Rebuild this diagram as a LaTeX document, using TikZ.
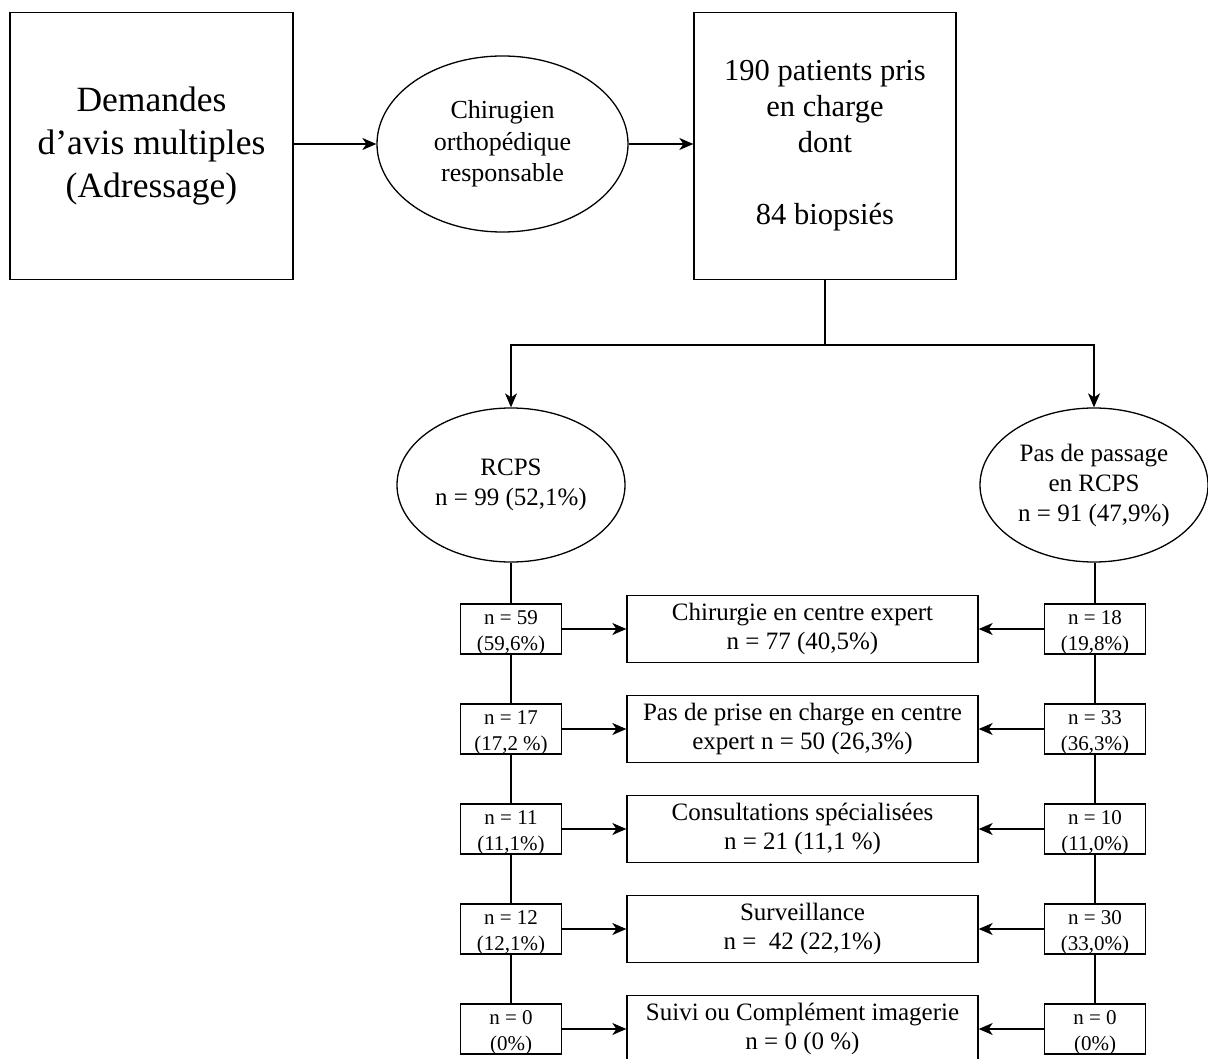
\documentclass[tikz,border=0pt]{standalone}
\usepackage{fontspec}
\setmainfont{Liberation Serif}
\usetikzlibrary{shapes.geometric,arrows.meta}
\begin{document}
\begin{tikzpicture}[x=1pt,y=-1pt,
  line width=1.3pt,
  arr/.style={-{Stealth[length=14pt,width=12pt,inset=4pt]}},
  bigbox/.style={draw,rectangle,inner sep=0pt,align=center},
  oval/.style={draw,ellipse,inner sep=0pt,align=center},
  smallbox/.style={draw,rectangle,inner sep=0pt,minimum width=101pt,minimum height=50pt},
  midbox/.style={draw,rectangle,inner sep=0pt,minimum width=351pt,minimum height=67pt,align=center,
    font=\fontsize{25}{29.5}\selectfont},
  sl/.style={align=center,inner sep=0pt,font=\fontsize{21}{26}\selectfont,yshift=-4pt}
]
\useasboundingbox (0,0) rectangle (1208,1059);

\node[bigbox,minimum width=283pt,minimum height=267pt,font=\fontsize{35.5}{43}\selectfont]
  (dem) at (151.5,146) {Demandes\\d'avis multiples\\(Adressage)};
\node[oval,minimum width=251pt,minimum height=176pt,font=\fontsize{26}{31.6}\selectfont]
  (chir) at (502.5,144) {Chirugien\\orthopédique\\responsable};
\node[bigbox,minimum width=262pt,minimum height=267pt,font=\fontsize{30.5}{36}\selectfont]
  (pat) at (825,146) {190 patients pris\\en charge\\dont\\\mbox{}\\84 biopsiés};

\draw[arr] (chir.west -| dem.east) -- (chir.west);
\draw[arr] (chir.east) -- (chir.east -| pat.west);

\coordinate (split) at (825,345);
\node[oval,minimum width=228pt,minimum height=154pt,font=\fontsize{25}{30}\selectfont]
  (rcps) at (511,485) {RCPS\\n = 99 (52,1\%)};
\node[oval,minimum width=228pt,minimum height=154pt,font=\fontsize{25}{30}\selectfont]
  (nrcps) at (1094,485) {Pas de passage\\en RCPS\\n = 91 (47,9\%)};

\draw[arr] (pat.south) -- (split) -| (rcps.north);
\draw[arr] (pat.south) -- (split) -| (nrcps.north);

% left small boxes
\node[smallbox,label={[sl]center:n = 59\\(59,6\%)}] (l1) at (511,629) {};
\node[smallbox,label={[sl]center:n = 17\\(17,2 \%)}] (l2) at (511,729) {};
\node[smallbox,label={[sl]center:n = 11\\(11,1\%)}] (l3) at (511,829) {};
\node[smallbox,label={[sl]center:n = 12\\(12,1\%)}] (l4) at (511,929) {};
\node[smallbox,label={[sl]center:n = 0\\(0\%)}] (l5) at (511,1029) {};

% right small boxes
\node[smallbox,label={[sl]center:n = 18\\(19,8\%)}] (r1) at (1095,629) {};
\node[smallbox,label={[sl]center:n = 33\\(36,3\%)}] (r2) at (1095,729) {};
\node[smallbox,label={[sl]center:n = 10\\(11,0\%)}] (r3) at (1095,829) {};
\node[smallbox,label={[sl]center:n = 30\\(33,0\%)}] (r4) at (1095,929) {};
\node[smallbox,label={[sl]center:n = 0\\(0\%)}] (r5) at (1095,1029) {};

% middle boxes
\node[midbox] (c1) at (802.5,629) {Chirurgie en centre expert\\n = 77 (40,5\%)};
\node[midbox] (c2) at (802.5,729) {Pas de prise en charge en centre\\expert n = 50 (26,3\%)};
\node[midbox] (c3) at (802.5,829) {Consultations spécialisées\\n = 21 (11,1 \%)};
\node[midbox] (c4) at (802.5,929) {Surveillance\\n = \ 42 (22,1\%)};
\node[midbox] (c5) at (802.5,1029) {Suivi ou Complément imagerie\\n = 0 (0 \%)};

% vertical chains
\draw (rcps.south) -- (l1.north);
\draw (l1.south) -- (l2.north);
\draw (l2.south) -- (l3.north);
\draw (l3.south) -- (l4.north);
\draw (l4.south) -- (l5.north);
\draw (nrcps.south -| r1.north) -- (r1.north);
\draw (r1.south) -- (r2.north);
\draw (r2.south) -- (r3.north);
\draw (r3.south) -- (r4.north);
\draw (r4.south) -- (r5.north);

% arrows to middle
\foreach \i in {1,...,5}{
  \draw[arr] (l\i.east) -- (c\i.west);
  \draw[arr] (r\i.west) -- (c\i.east);
}
\end{tikzpicture}
\end{document}
